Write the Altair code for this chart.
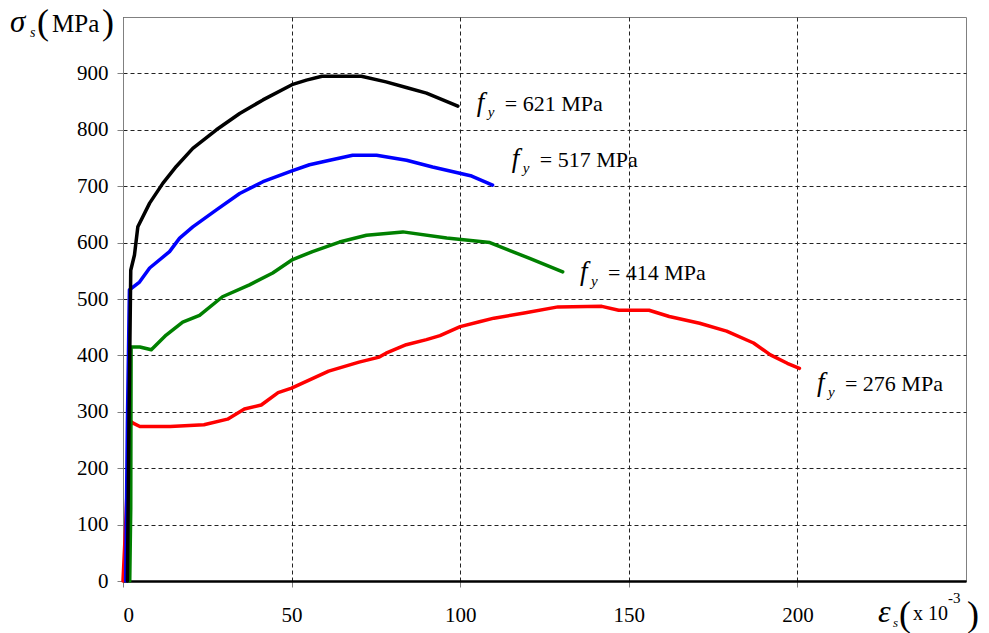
import altair as alt
import pandas as pd

# ---- data ----
red_x = [0, 0.8, 1.8, 2.3, 3, 5, 14, 24, 31, 36, 41, 46, 50, 61, 70, 76, 78, 84, 90, 94, 100, 106, 110, 119, 129, 142, 147, 156, 162, 171, 179, 187, 192, 197, 200.6]
red_y = [0, 100, 250, 283, 280, 274, 274, 277, 287, 305, 312, 334, 342, 372, 388, 397, 404, 419, 428, 435, 451, 460, 466, 475, 486, 487, 480, 480, 469, 457, 443, 422, 401, 386, 377]

green_x = [2.0, 2.3, 2.4, 5, 8.4, 12.8, 17.7, 22.7, 29.5, 37.5, 44.4, 50.3, 56.2, 64.2, 72.2, 83, 96, 108.8, 120.6, 130.4]
green_y = [0, 130, 415, 415, 410, 436, 459, 471, 504, 525, 546, 570, 584, 601, 613, 619, 608, 600, 572, 548]

blue_x = [0.8, 1.3, 1.9, 4.9, 7.9, 13.8, 16.8, 20.7, 27.7, 34.6, 41.5, 50.1, 55.3, 61.3, 68.1, 75.2, 84.1, 91.8, 103.4, 109.6]
blue_y = [0, 280, 516, 530, 555, 584, 608, 628, 658, 687, 708, 727, 738, 746, 755, 755, 746, 734, 718, 702]

black_x = [1.3, 1.8, 2.3, 3.4, 4.4, 7.9, 11.8, 15.8, 20.7, 27.7, 34.6, 41.5, 50.1, 54.4, 59, 70.7, 78, 84, 90, 99.3]
black_y = [0, 300, 551, 578, 628, 670, 705, 735, 767, 800, 829, 853, 880, 888, 895, 895, 885, 875, 865, 842]

series_names = ["276", "414", "517", "621"]
series_colors = ["#FF0000", "#008000", "#0000FF", "#000000"]

label_text = ["= 621 MPa", "= 517 MPa", "= 414 MPa", "= 276 MPa"]
label_x = [104.9, 115.3, 135.5, 205.8]
label_y = [834, 734, 533, 337]

x_ticks = [0, 50, 100, 150, 200]
y_ticks = [0, 100, 200, 300, 400, 500, 600, 700, 800, 900]

# ---- build table ----
rows = []
for name, xs, ys in zip(series_names, [red_x, green_x, blue_x, black_x], [red_y, green_y, blue_y, black_y]):
    for i, (a, b) in enumerate(zip(xs, ys)):
        rows.append({"strain": a, "stress": b, "series": name, "idx": i})
df = pd.DataFrame(rows)

lab = pd.DataFrame({"x": label_x, "y": label_y, "t": label_text})

FONT = "'Liberation Serif', 'Times New Roman', 'DejaVu Serif', serif"
W, H = 843, 564

xs = alt.Scale(domain=[0, 250], nice=False, zero=False)
ys = alt.Scale(domain=[0, 1000], nice=False)

lines = alt.Chart(df).mark_line(strokeWidth=3.5, strokeJoin="round", strokeCap="round").encode(
    x=alt.X("strain:Q", scale=xs, axis=alt.Axis(
        values=x_ticks, title=None, grid=True, gridDash=[4, 3], gridColor="#222", gridWidth=1,
        domainColor="#000", domainWidth=2.5, tickColor="#808080", tickSize=6,
        labelFont=FONT, labelFontSize=21, labelColor="#000", labelPadding=17)),
    y=alt.Y("stress:Q", scale=ys, axis=alt.Axis(
        values=y_ticks, title=None, grid=True, gridDash=[4, 3], gridColor="#222", gridWidth=1,
        domainColor="#808080", domainWidth=1, tickColor="#808080", tickSize=6,
        labelFont=FONT, labelFontSize=21, labelColor="#000", labelPadding=9)),
    color=alt.Color("series:N", scale=alt.Scale(domain=series_names, range=series_colors), legend=None),
    order="idx:Q",
)

f_mark = alt.Chart(lab).mark_text(font=FONT, fontSize=27, fontStyle="italic", align="left", baseline="alphabetic").encode(
    x=alt.X("x:Q", scale=xs), y=alt.Y("y:Q", scale=ys), text=alt.value("f"))
y_sub = alt.Chart(lab).mark_text(font=FONT, fontSize=15, fontStyle="italic", align="left", baseline="alphabetic", dx=11, dy=6).encode(
    x=alt.X("x:Q", scale=xs), y=alt.Y("y:Q", scale=ys), text=alt.value("y"))
rest = alt.Chart(lab).mark_text(font=FONT, fontSize=22, align="left", baseline="alphabetic", dx=28).encode(
    x=alt.X("x:Q", scale=xs), y=alt.Y("y:Q", scale=ys), text="t:N")


def txt(s, px, py, size, italic=False):
    kw = dict(font=FONT, fontSize=size, align="left", baseline="alphabetic", color="#000")
    if italic:
        kw["fontStyle"] = "italic"
    return alt.Chart(pd.DataFrame({"t": [s]})).mark_text(**kw).encode(
        x=alt.value(px), y=alt.value(py), text="t:N")

OX, OY = 123, 17
titles = [
    txt("σ", 10 - OX, 32 - OY, 31, True),
    txt("s", 30 - OX, 37 - OY, 14, True),
    txt("(", 37 - OX, 34 - OY, 36),
    txt("MPa", 52 - OX, 32 - OY, 25),
    txt(")", 102 - OX, 34 - OY, 36),
    txt("ε", 878 - OX, 622 - OY, 32, True),
    txt("s", 893 - OX, 627 - OY, 13, True),
    txt("(", 899 - OX, 626 - OY, 36),
    txt("x 10", 913 - OX, 620 - OY, 20),
    txt("-3", 948 - OX, 603 - OY, 15),
    txt(")", 967 - OX, 626 - OY, 36),
]

chart = alt.layer(lines, f_mark, y_sub, rest, *titles).properties(
    width=W, height=H,
    padding={"left": OX, "top": OY, "right": 989 - OX - W, "bottom": 633 - OY - H},
    autosize=alt.AutoSizeParams(type="none"),
    background="white",
).configure_view(stroke="#808080", strokeWidth=1)

chart.save("out.html", embed_options={"renderer": "svg", "actions": False})
